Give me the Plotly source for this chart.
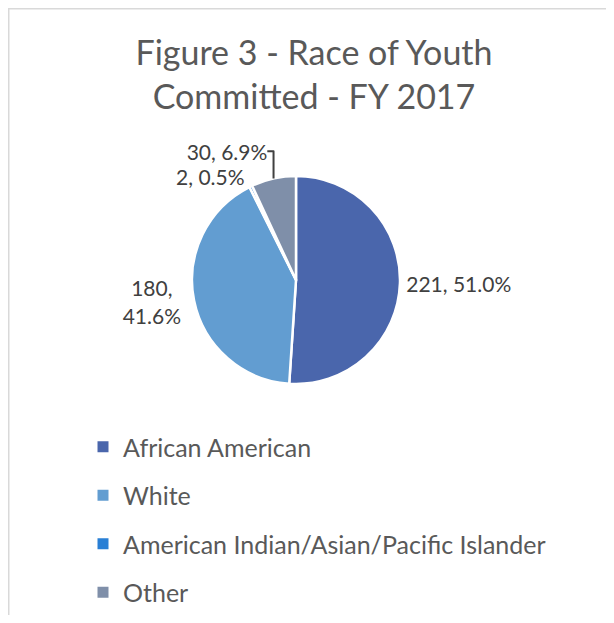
"""
Figure 3 - Race of Youth Committed, FY 2017 (pie chart)
"""

import plotly.graph_objects as go

# data
races = ["African American", "White", "American Indian/Asian/Pacific Islander", "Other"]
counts = [221, 180, 2, 30]
label_formats = [
    "%{value}, %{percent:.1%}",
    "%{value},<br>%{percent:.1%}",
    "%{value}, %{percent:.1%}",
    "%{value}, %{percent:.1%}",
]
slice_colors = ["#4A66AC", "#629DD1", "#297FD5", "#7F8FA9"]

# the page body has an 8px margin, so the figure is a bit smaller than the window
W, H = 598, 607
FONT = "Lato, 'Open Sans', sans-serif"

# pie geometry in figure pixels (centre and radius)
cx, cy, r = 288, 272, 104

fig = go.Figure()

fig.add_trace(go.Pie(
    labels=races,
    values=counts,
    sort=False,
    direction="clockwise",
    rotation=0,
    marker=dict(colors=slice_colors, line=dict(color="white", width=2.5)),
    texttemplate=label_formats,
    textposition="outside",
    outsidetextfont=dict(family=FONT, size=21, color="#404040"),
    hovertemplate="%{label}: %{value} (%{percent:.1%})<extra></extra>",
    showlegend=False,
    domain=dict(
        x=[(cx - r) / W, (cx + r) / W],
        y=[(H - cy - r) / H, (H - cy + r) / H],
    ),
))

# legend entries, one group per race so the rows can be spaced like the original
for race, color in zip(races, slice_colors):
    fig.add_trace(go.Scatter(
        x=[None],
        y=[None],
        mode="markers",
        name=race,
        legendgroup=race,
        marker=dict(symbol="square", size=11, color=color),
        hoverinfo="skip",
    ))

fig.update_layout(
    width=W,
    height=H,
    margin=dict(l=0, r=0, t=0, b=0),
    paper_bgcolor="white",
    plot_bgcolor="white",
    xaxis=dict(visible=False),
    yaxis=dict(visible=False),
    title=dict(
        text="Figure 3 - Race of Youth<br>Committed - FY 2017",
        font=dict(family=FONT, size=34, color="#595959"),
        x=306 / W,
        xanchor="center",
        y=1 - 57 / H,
        yanchor="top",
    ),
    legend=dict(
        orientation="v",
        x=75 / W,
        xanchor="left",
        y=1 - 416 / H,
        yanchor="top",
        font=dict(family=FONT, size=25, color="#595959"),
        itemwidth=30,
        traceorder="grouped",
        tracegroupgap=13,
    ),
    showlegend=True,
    shapes=[
        dict(type="line", xref="paper", yref="paper",
             x0=0, x1=1, y0=1 - 0.75 / H, y1=1 - 0.75 / H,
             line=dict(color="#D9D9D9", width=1.5)),
        dict(type="line", xref="paper", yref="paper",
             x0=0.75 / W, x1=0.75 / W, y0=0, y1=1,
             line=dict(color="#D9D9D9", width=1.5)),
    ],
)

fig.write_html("out.html")
